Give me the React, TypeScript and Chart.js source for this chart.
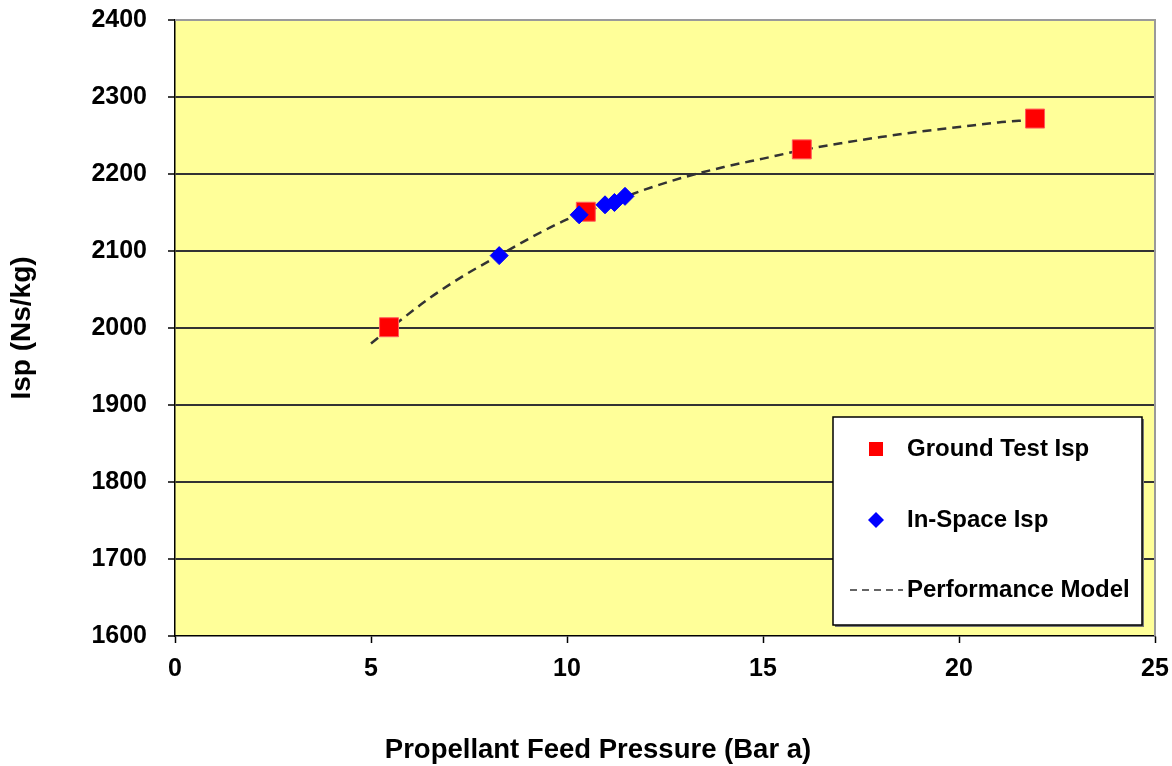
import React, { useEffect, useRef } from "react";
import { Chart, registerables } from "chart.js";

Chart.register(...registerables);

// Ground test Isp (red squares)
const groundX = [5.46, 10.48, 15.99, 21.94];
const groundY = [2001, 2151, 2232, 2272];

// In-space Isp (blue diamonds)
const spaceX = [8.27, 10.31, 10.97, 11.21, 11.48];
const spaceY = [2094, 2147, 2160, 2163, 2171];

// Performance model (dashed curve)
const modelX = [5, 5.5, 6.5, 7.4, 8.3, 9.1, 10, 11, 12, 13, 14, 15, 16, 17, 18, 19, 20, 21, 21.8];
const modelY = [1980, 2000, 2039, 2069, 2095, 2118, 2141, 2161, 2180, 2196, 2209, 2220, 2231, 2240, 2248, 2255, 2261, 2267, 2270];

const xTicks = [0, 5, 10, 15, 20, 25];
const yTicks = [1600, 1700, 1800, 1900, 2000, 2100, 2200, 2300, 2400];

const legendLabels = ["Ground Test Isp", "In-Space Isp", "Performance Model"];
const xTitle = "Propellant Feed Pressure (Bar a)";
const yTitle = "Isp (Ns/kg)";

const FONT = "'Liberation Sans', Arial, sans-serif";

const decorPlugin = {
  id: "decor",
  beforeDraw(chart: any) {
    const { ctx, chartArea } = chart;
    ctx.save();
    ctx.fillStyle = "#FFFF99";
    ctx.fillRect(chartArea.left, chartArea.top, chartArea.right - chartArea.left, chartArea.bottom - chartArea.top);
    ctx.restore();
  },
  afterDraw(chart: any) {
    const { ctx, chartArea } = chart;
    ctx.save();
    // top / right plot border
    ctx.strokeStyle = "#9a9a9a";
    ctx.lineWidth = 2;
    ctx.beginPath();
    ctx.moveTo(chartArea.left, chartArea.top);
    ctx.lineTo(chartArea.right, chartArea.top);
    ctx.lineTo(chartArea.right, chartArea.bottom);
    ctx.stroke();

    // legend box
    const bx = 833, by = 417, bw = 309, bh = 208;
    ctx.fillStyle = "#777";
    ctx.fillRect(bx + 2, by + 2, bw, bh);
    ctx.fillStyle = "#ffffff";
    ctx.fillRect(bx, by, bw, bh);
    ctx.strokeStyle = "#000";
    ctx.lineWidth = 1.5;
    ctx.strokeRect(bx, by, bw, bh);

    const ds = chart.data.datasets;
    ctx.font = `bold 24px ${FONT}`;
    ctx.textBaseline = "middle";
    ctx.textAlign = "left";
    const rows = [449, 520, 590];
    // red square
    ctx.fillStyle = ds[0].backgroundColor;
    ctx.fillRect(876 - 7, rows[0] - 7, 14, 14);
    // blue diamond
    ctx.fillStyle = ds[1].backgroundColor;
    ctx.beginPath();
    ctx.moveTo(876, rows[1] - 8);
    ctx.lineTo(884, rows[1]);
    ctx.lineTo(876, rows[1] + 8);
    ctx.lineTo(868, rows[1]);
    ctx.closePath();
    ctx.fill();
    // dashed sample
    ctx.strokeStyle = ds[2].borderColor;
    ctx.lineWidth = 1.5;
    ctx.setLineDash([7, 5]);
    ctx.beginPath();
    ctx.moveTo(850, rows[2]);
    ctx.lineTo(903, rows[2]);
    ctx.stroke();
    ctx.setLineDash([]);
    ctx.fillStyle = "#000";
    for (let i = 0; i < 3; i++) {
      ctx.fillText(ds[i].label, 907, rows[i]);
    }

    // axis titles
    ctx.font = `bold 27.5px ${FONT}`;
    ctx.textAlign = "center";
    ctx.fillText(xTitle, 598, 750);
    ctx.font = `bold 28px ${FONT}`;
    ctx.translate(22, 328);
    ctx.rotate(-Math.PI / 2);
    ctx.fillText(yTitle, 0, 0);
    ctx.restore();
  },
};

export default function App() {
  const ref = useRef<HTMLCanvasElement>(null);
  useEffect(() => {
    document.body.style.margin = "0";
    const canvas = ref.current!;
    const chart = new Chart(canvas, {
      type: "scatter",
      data: {
        datasets: [
          {
            label: legendLabels[0],
            data: groundX.map((x, i) => ({ x, y: groundY[i] })),
            backgroundColor: "#FF0000",
            borderColor: "#FF5a5a",
            borderWidth: 1,
            pointStyle: "rect",
            pointRadius: 13.4,
            order: 2,
          },
          {
            label: legendLabels[1],
            data: spaceX.map((x, i) => ({ x, y: spaceY[i] })),
            backgroundColor: "#0000FF",
            borderColor: "#0000FF",
            borderWidth: 1,
            pointStyle: "rectRot",
            pointRadius: 9,
            order: 1,
          },
          {
            label: legendLabels[2],
            data: modelX.map((x, i) => ({ x, y: modelY[i] })),
            showLine: true,
            borderColor: "#333333",
            backgroundColor: "#333333",
            borderWidth: 2.5,
            borderDash: [9, 6],
            pointRadius: 0,
            cubicInterpolationMode: "monotone",
            order: 3,
          } as any,
        ],
      },
      options: {
        responsive: false,
        animation: false,
        layout: { padding: { top: 20, right: 17, left: 0, bottom: 0 } },
        plugins: { legend: { display: false }, tooltip: { enabled: false }, title: { display: false } },
        scales: {
          x: {
            type: "linear",
            min: 0,
            max: 25,
            afterFit: (s: any) => { s.height = 130; s.paddingLeft = 0; s.paddingRight = 0; },
            afterBuildTicks: (s: any) => { s.ticks = xTicks.map((v) => ({ value: v })); },
            ticks: {
              color: "#000",
              font: { family: FONT, size: 25, weight: "bold" },
              padding: 11,
              callback: (v: any) => String(v),
            },
            grid: { drawOnChartArea: false, drawTicks: true, tickLength: 7, tickColor: "#000", tickWidth: 1.5 },
            border: { display: true, color: "#000", width: 1.5 },
          },
          y: {
            type: "linear",
            min: 1600,
            max: 2400,
            afterFit: (s: any) => { s.width = 175; s.paddingTop = 0; s.paddingBottom = 0; },
            afterBuildTicks: (s: any) => { s.ticks = yTicks.map((v) => ({ value: v })); },
            ticks: {
              color: "#000",
              font: { family: FONT, size: 25, weight: "bold" },
              padding: 21,
              callback: (v: any) => String(v),
            },
            grid: {
              drawOnChartArea: true,
              color: (c: any) => (c.tick && (c.tick.value === 2400 || c.tick.value === 1600) ? "rgba(0,0,0,0)" : "#333333"),
              lineWidth: 2,
              tickLength: 7,
              tickColor: "#000",
              tickWidth: 1.5,
            },
            border: { display: true, color: "#000", width: 1.5 },
          },
        },
      },
      plugins: [decorPlugin],
    });
    return () => chart.destroy();
  }, []);
  return (
    <div style={{ position: "absolute", left: 0, top: 0, width: 1172, height: 766, background: "#fff" }}>
      <canvas ref={ref} width={1172} height={766} />
    </div>
  );
}
